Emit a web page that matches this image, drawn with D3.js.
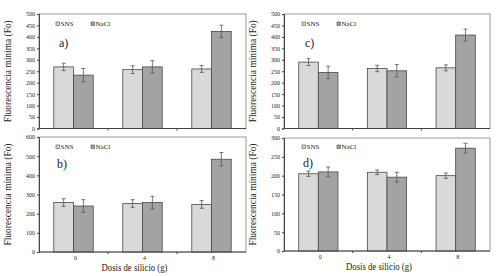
<!DOCTYPE html>
<html><head><meta charset="utf-8">
<script src="https://cdn.jsdelivr.net/npm/d3@7"></script>
<style>body{margin:0;background:#fff}svg{display:block}text{font-family:"Liberation Serif","Times New Roman",serif;fill:#222}</style>
</head><body>
<script>
const categories = ["0", "4", "8"];
const seriesNames = ["SNS", "NaCl"];
const panelLabels = ["a)", "b)", "c)", "d)"];
const yMax = [500, 600, 500, 300];
const yStep = [50, 100, 50, 50];
const snsA = [269, 257, 260], snsAErr = [16, 17, 15];
const naclA = [233, 269, 424], naclAErr = [29, 27, 27];
const snsB = [258, 253, 248], snsBErr = [20, 20, 20];
const naclB = [240, 258, 484], naclBErr = [33, 33, 35];
const snsC = [290, 262, 265], snsCErr = [15, 14, 13];
const naclC = [245, 252, 408], naclCErr = [27, 27, 26];
const snsD = [205, 209, 200], snsDErr = [7, 6, 7];
const naclD = [210, 196, 273], naclDErr = [13, 13, 13];
const yTitle = "Fluorescencia mínima (Fo)";
const xTitle = "Dosis de silicio  (g)";

const W = 500, H = 276;
const svg = d3.select("body").append("svg").attr("width", W).attr("height", H);

const panels = [
  {x0: 39, x1: 246, y0: 14, y1: 128.5, sns: snsA, se: snsAErr, nacl: naclA, ne: naclAErr, bottom: false, lab: [59, 47], leg: [56, 24]},
  {x0: 39, x1: 246, y0: 137, y1: 252, sns: snsB, se: snsBErr, nacl: naclB, ne: naclBErr, bottom: true, lab: [57, 168], leg: [56, 147]},
  {x0: 284, x1: 490, y0: 14, y1: 128.5, sns: snsC, se: snsCErr, nacl: naclC, ne: naclCErr, bottom: false, lab: [305, 47], leg: [302, 24]},
  {x0: 284, x1: 490, y0: 138, y1: 251, sns: snsD, se: snsDErr, nacl: naclD, ne: naclDErr, bottom: true, lab: [303, 167], leg: [302, 147]}
];
const fills = ["#d9d9d9", "#a3a3a3"];
const stroke = "#4a4a4a";

panels.forEach((p, i) => {
  const g = svg.append("g");
  const x = d3.scaleBand().domain(categories).range([p.x0, p.x1]);
  const xs = d3.scaleBand().domain(seriesNames).range([0, x.bandwidth()]).paddingInner(0).paddingOuter(0.75);
  const y = d3.scaleLinear().domain([0, yMax[i]]).range([p.y1, p.y0]);

  g.append("rect").attr("x", p.x0).attr("y", p.y0).attr("width", p.x1 - p.x0).attr("height", p.y1 - p.y0)
    .attr("fill", "none").attr("stroke", "#9a9a9a").attr("stroke-width", 1);

  const data = [];
  categories.forEach((c, k) => {
    data.push({c, s: "SNS", v: p.sns[k], e: p.se[k]});
    data.push({c, s: "NaCl", v: p.nacl[k], e: p.ne[k]});
  });
  g.selectAll("rect.bar").data(data).enter().append("rect")
    .attr("x", d => x(d.c) + xs(d.s)).attr("width", xs.bandwidth())
    .attr("y", d => y(d.v)).attr("height", d => y(0) - y(d.v))
    .attr("fill", d => fills[seriesNames.indexOf(d.s)]).attr("stroke", stroke).attr("stroke-width", 0.8);
  const eb = g.selectAll("g.eb").data(data).enter().append("g").attr("stroke", "#555").attr("stroke-width", 0.8);
  const cx = d => x(d.c) + xs(d.s) + xs.bandwidth() / 2;
  eb.append("line").attr("x1", cx).attr("x2", cx).attr("y1", d => y(d.v + d.e)).attr("y2", d => y(d.v - d.e));
  eb.append("line").attr("x1", d => cx(d) - 2).attr("x2", d => cx(d) + 2).attr("y1", d => y(d.v + d.e)).attr("y2", d => y(d.v + d.e));
  eb.append("line").attr("x1", d => cx(d) - 2).attr("x2", d => cx(d) + 2).attr("y1", d => y(d.v - d.e)).attr("y2", d => y(d.v - d.e));

  const ya = g.append("g").attr("transform", `translate(${p.x0},0)`)
    .call(d3.axisLeft(y).tickValues(d3.range(0, yMax[i] + 1, yStep[i])).tickSize(2).tickPadding(2));
  ya.attr("font-family", null);
  ya.select(".domain").attr("stroke", "#444");
  ya.selectAll(".tick line").attr("stroke", "#444");
  ya.selectAll("text").attr("font-size", 6).attr("font-family", "Liberation Serif").attr("fill", "#222");

  const xa = g.append("g").attr("transform", `translate(0,${p.y1})`);
  xa.append("line").attr("x1", p.x0).attr("x2", p.x1).attr("stroke", "#444");
  xa.selectAll("line.t").data(categories.slice(1)).enter().append("line")
    .attr("x1", d => x(d)).attr("x2", d => x(d)).attr("y1", 0).attr("y2", 2).attr("stroke", "#444");
  if (p.bottom) {
    xa.selectAll("text.c").data(categories).enter().append("text")
      .attr("x", d => x(d) + x.bandwidth() / 2 + 2).attr("y", 8).attr("text-anchor", "middle")
      .attr("font-size", 6).text(d => d);
    svg.append("text").attr("x", (p.x0 + p.x1) / 2 - 8).attr("y", p.y1 + 18.5).attr("text-anchor", "middle")
      .attr("font-size", 11).attr("textLength", 66).attr("lengthAdjust", "spacingAndGlyphs").text(xTitle);
  }
  const ycx = p.x0 - 28, ycy = (p.y0 + p.y1) / 2;
  svg.append("text").attr("transform", `translate(${ycx},${ycy}) rotate(-90)`).attr("text-anchor", "middle")
    .attr("font-size", 11).attr("textLength", 102).attr("lengthAdjust", "spacingAndGlyphs").text(yTitle);

  svg.append("text").attr("x", p.lab[0]).attr("y", p.lab[1]).attr("font-size", 12).text(panelLabels[i]);

  seriesNames.forEach((s, k) => {
    const lx = p.leg[0] + k * 35, ly = p.leg[1];
    svg.append("rect").attr("x", lx).attr("y", ly - 2).attr("width", 3.5).attr("height", 3.5)
      .attr("fill", fills[k]).attr("stroke", stroke).attr("stroke-width", 0.6);
    svg.append("text").attr("x", lx + 4.5).attr("y", ly + 2).attr("font-size", 7).text(s);
  });
});
</script>
</body></html>
